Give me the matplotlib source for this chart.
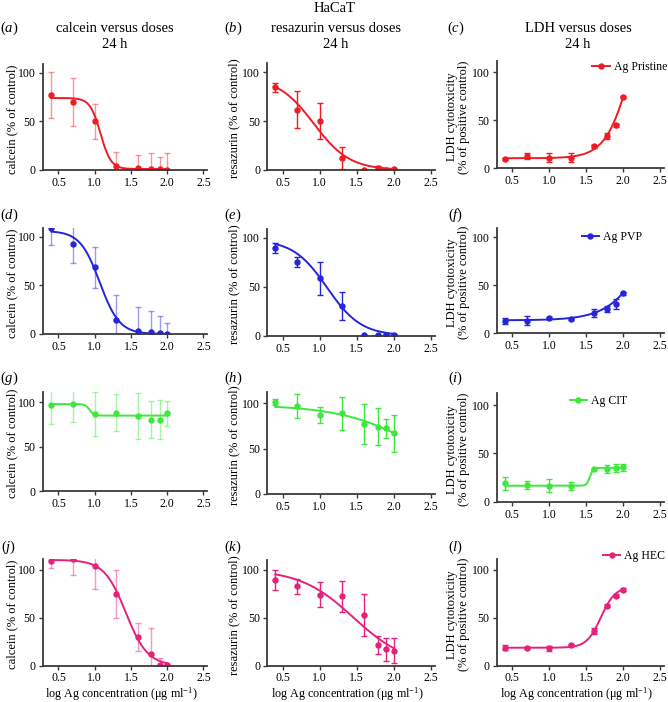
import numpy as np
import matplotlib
matplotlib.use('Agg')
import matplotlib.pyplot as plt
from matplotlib.lines import Line2D

plt.rcParams['font.family'] = ['Liberation Serif', 'DejaVu Serif']
plt.rcParams['mathtext.fontset'] = 'custom'
plt.rcParams['mathtext.rm'] = 'Liberation Serif'
plt.rcParams['mathtext.it'] = 'Liberation Serif:italic'

# ---------------- data ----------------
log_dose = [0.4, 0.7, 1.0, 1.3, 1.6, 1.78, 1.9, 2.0]
x_ticks = [0.5, 1.0, 1.5, 2.0, 2.5]
y_ticks = [0, 50, 100]

materials = ['Ag Pristine', 'Ag PVP', 'Ag CIT', 'Ag HEC']
colors = ['#ee1d25', '#2525dc', '#3ce83c', '#e6217c']

calcein_pristine = [77, 70, 50, 4, 2.4, 1.4, 1, 0.3]
calcein_pristine_err = [23.5, 25, 18, 14.5, 13, 16.5, 12.5, 17.5]
resazurin_pristine = [84.5, 61.5, 50, 12.5, 0.5, 2.4, 0.4, 1]
resazurin_pristine_err = [4.5, 19, 18.5, 11.5, 0, 1.5, 0, 0]
ldh_pristine = [9.5, 13.2, 11.2, 11, 23, 33.7, 44.8, 74.5]
ldh_pristine_err = [1, 3, 4.5, 4.5, 1.5, 3.5, 1.5, 1]

calcein_pvp = [109, 93, 68.5, 14.5, 2.7, 1.7, 1, 0.3]
calcein_pvp_err = [18, 20, 21, 26, 25, 22, 17.5, 11.5]
resazurin_pvp = [89.8, 75.5, 58.5, 30.3, 0.3, 0.3, 1, 1]
resazurin_pvp_err = [5, 5, 17, 14, 0, 0, 0.5, 0.5]
ldh_pvp = [12.5, 13, 15.5, 14.5, 21, 25, 30.5, 41.5]
ldh_pvp_err = [3, 4.5, 1, 1, 4, 3, 5.5, 1.5]

calcein_cit = [97.5, 98, 86.5, 88.5, 85, 80.5, 80.5, 87.5]
calcein_cit_err = [22, 20, 25, 21, 26, 21, 22, 14]
resazurin_cit = [101, 97, 87, 88.5, 76.5, 74, 72, 66.5]
resazurin_cit_err = [3, 13, 9, 18, 22, 20, 10, 20]
ldh_cit = [19, 17, 16.5, 16, 34, 34, 34.5, 35.5]
ldh_cit_err = [7, 4, 6.5, 4, 1, 4, 4, 4]

calcein_hec = [108.5, 110.5, 104, 74.5, 29.5, 12, 1, 0.5]
calcein_hec_err = [7, 16, 24, 25, 14.5, 27, 6.5, 1]
resazurin_hec = [89, 82.5, 73.5, 72, 52.5, 21.5, 17, 15.5]
resazurin_hec_err = [10.5, 8, 13, 16, 22, 9.5, 12, 13]
ldh_hec = [18.5, 18.5, 18, 21.5, 36, 62.5, 72.5, 79]
ldh_hec_err = [2.5, 1, 2.5, 1, 3.5, 1.5, 1.5, 1.5]

# fitted 4-parameter logistic curves: (bottom, top, logEC50, hill)
fit_calcein_pristine = (1, 74, 1.08, -6)
fit_resazurin_pristine = (0, 95, 0.92, -1.8)
fit_ldh_pristine = (10.5, 200, 2.119, 2.5)
fit_calcein_pvp = (0, 106, 1.07, -3.2)
fit_resazurin_pvp = (0, 98, 1.1, -1.9)
fit_ldh_pvp = (13.5, 200, 2.464, 1.6)
fit_calcein_cit = (85, 98, 0.93, -14)
fit_resazurin_cit = (0, 98, 2.41, -0.81)
fit_ldh_cit = (16.5, 35, 1.55, 20)
fit_calcein_hec = (0, 110, 1.43, -2.9)
fit_resazurin_hec = (0, 100, 1.455, -1.21)
fit_ldh_hec = (18.5, 82, 1.70, 4.5)

column_titles = ['calcein versus doses', 'resazurin versus doses', 'LDH versus doses']
y_labels = ['calcein (% of control)', 'resazurin (% of control)',
            'LDH cytotoxicity\n(% of positive control)']
x_label = r'log Ag concentration ($\mathrm{\mu}$g ml$^{-1}$)'
panel_letters = ['a', 'b', 'c', 'd', 'e', 'f', 'g', 'h', 'i', 'j', 'k', 'l']

means = [[calcein_pristine, resazurin_pristine, ldh_pristine],
         [calcein_pvp, resazurin_pvp, ldh_pvp],
         [calcein_cit, resazurin_cit, ldh_cit],
         [calcein_hec, resazurin_hec, ldh_hec]]
errs = [[calcein_pristine_err, resazurin_pristine_err, ldh_pristine_err],
        [calcein_pvp_err, resazurin_pvp_err, ldh_pvp_err],
        [calcein_cit_err, resazurin_cit_err, ldh_cit_err],
        [calcein_hec_err, resazurin_hec_err, ldh_hec_err]]
fits = [[fit_calcein_pristine, fit_resazurin_pristine, fit_ldh_pristine],
        [fit_calcein_pvp, fit_resazurin_pvp, fit_ldh_pvp],
        [fit_calcein_cit, fit_resazurin_cit, fit_ldh_cit],
        [fit_calcein_hec, fit_resazurin_hec, fit_ldh_hec]]


def logistic(x, p):
    b, t, c, h = p
    return b + (t - b) / (1 + 10 ** ((c - x) * h))


# ---------------- layout (pixels) ----------------
W, H = 668, 702
fig = plt.figure(figsize=(W / 100, H / 100), dpi=100)

col_left = [42.5, 267, 496.5]
col_xlim = [(0.28, 2.55), (0.29, 2.55), (0.285, 2.55)]
col_ppu = [72.5, 74.2, 73.8]
# (zero px, hundred px, top px) per panel
rows_geom = [
    [(170, 72.7, 64), (170, 72.3, 63.3), (168.3, 72.3, 61.5)],
    [(334, 236.7, 228.3), (335.7, 237.7, 229), (333.3, 237, 228.3)],
    [(491, 402.3, 391.7), (494, 403, 391.7), (501.7, 405, 393.3)],
    [(665.5, 569.5, 559), (665.5, 569.5, 560), (665.5, 569.5, 559)],
]
ylabel_x = [12, 234, 458]
letter_x = [9, 233, 456]
letter_y = [28, 215, 378, 547]
legend_pos = [(667, 67), (642, 237), (627, 401), (665, 556)]

tick_fs = 8.5
label_fs = 9
title_fs = 10.5

for r in range(4):
    color = colors[r]
    for c in range(3):
        y0, y100, ytop = rows_geom[r][c]
        xl = col_xlim[c]
        width = (xl[1] - xl[0]) * col_ppu[c]
        ax = fig.add_axes([col_left[c] / W, 1 - y0 / H, width / W, (y0 - ytop) / H])
        ymax = 100 * (y0 - ytop) / (y0 - y100)
        ax.set_xlim(*xl)
        ax.set_ylim(0, ymax)
        for s in ['top', 'right']:
            ax.spines[s].set_visible(False)
        for s in ['left', 'bottom']:
            ax.spines[s].set_linewidth(1.3)
            ax.spines[s].set_color('#3a3a3a')
        ax.set_xticks(x_ticks)
        ax.set_xticklabels(['%.1f' % v for v in x_ticks])
        ax.set_yticks(y_ticks)
        ax.tick_params(direction='out', length=3, width=1, color='#3a3a3a',
                       labelsize=tick_fs, pad=2)

        m = means[r][c]
        e = errs[r][c]
        ealpha = 0.45 if c == 0 else 1.0
        ax.errorbar(log_dose, m, yerr=e, fmt='none', ecolor=color, alpha=ealpha,
                     capsize=2, elinewidth=1.0, capthick=1.0)
        xx = np.linspace(log_dose[0], log_dose[-1], 300)
        ax.plot(xx, logistic(xx, fits[r][c]), color=color, lw=1.4)
        ax.plot(log_dose, m, 'o', color=color, ms=3.6, mec=color)

        # y label
        fig.text(ylabel_x[c] / W, 1 - ((y0 + ytop) / 2 + 2) / H, y_labels[c], rotation=90,
                 ha='center', va='center', fontsize=label_fs, linespacing=1.05)
        # panel letter
        fig.text(letter_x[c] / W, 1 - letter_y[r] / H,
                 r'$(\mathit{%s})$' % panel_letters[r * 3 + c],
                 ha='center', va='center', fontsize=title_fs)
        if r == 3:
            fig.text((col_left[c] + width / 2) / W - 0.005, 1 - 694 / H, x_label,
                     ha='center', va='center', fontsize=8.7)
        if c == 2:
            h = Line2D([], [], color=color, marker='o', ms=3.6, lw=1.4)
            lx, ly = legend_pos[r]
            ax.legend([h], [materials[r]], loc='center right',
                      bbox_to_anchor=(lx / W, 1 - ly / H), bbox_transform=fig.transFigure,
                      frameon=False, borderaxespad=0, borderpad=0, handlelength=1.5,
                      handletextpad=0.3, fontsize=8.5)

# titles
title_cx = [115, 336, 578]
for c in range(3):
    fig.text(title_cx[c] / W, 1 - 28 / H, column_titles[c], ha='center', va='center',
             fontsize=title_fs)
    fig.text(title_cx[c] / W, 1 - 45 / H, '24 h', ha='center', va='center',
             fontsize=title_fs)
fig.text(335 / W, 1 - 8 / H, 'HaCaT', ha='center', va='center', fontsize=title_fs)

fig.savefig('out.png', dpi=100)
